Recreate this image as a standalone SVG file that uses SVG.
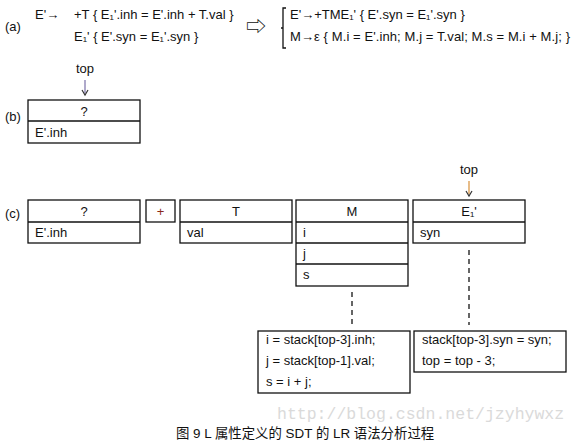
<svg xmlns="http://www.w3.org/2000/svg" width="577" height="443" viewBox="0 0 577 443">
<style>
text{font-family:"Liberation Sans","Noto Sans CJK SC",sans-serif;font-size:13px;fill:#111}
.box{fill:#fff;stroke:#111;stroke-width:1.3}
.ln{stroke:#111;stroke-width:1.3}
.c{text-anchor:middle}
.dash{stroke:#333;stroke-width:1.5;stroke-dasharray:5,4;fill:none}
.wm{font-family:"Liberation Mono","DejaVu Sans Mono",monospace;font-size:16.5px;fill:#dadada}
</style>
<rect width="577" height="443" fill="#fff"/>
<g id="part-a">
<text x="5" y="31">(a)</text>
<text x="35" y="19">E'→</text>
<text x="74" y="19">+T { E₁'.inh = E'.inh + T.val }</text>
<text x="74" y="41">E₁' { E'.syn = E₁'.syn }</text>
<text x="246" y="34" style="font-size:20px">⇨</text>
<path d="M286 8 H283 V48 H286 M283 28 H281" fill="none" stroke="#111" stroke-width="1.3"/>
<text x="290" y="19">E'→+TME₁' { E'.syn = E₁'.syn }</text>
<text x="290" y="41" textLength="280" lengthAdjust="spacing">M→ε { M.i = E'.inh; M.j = T.val; M.s = M.i + M.j; }</text>
</g>
<g id="part-b">
<text x="5" y="121">(b)</text>
<text x="85" y="73" class="c">top</text>
<g id="b-stack">
<rect class="box" x="28" y="100" width="112" height="43"/>
<line class="ln" x1="28" y1="121" x2="140" y2="121"/>
<text x="84" y="116" class="c">?</text>
<text x="35" y="137">E'.inh</text>
</g>
</g>
<g id="part-c">
<text x="5" y="218">(c)</text>
<text x="469" y="174" class="c">top</text>
</g>
<g id="c-q">
<rect class="box" x="28" y="200" width="112" height="43"/>
<line class="ln" x1="28" y1="222" x2="140" y2="222"/>
<text x="84" y="216" class="c">?</text>
<text x="35" y="237">E'.inh</text>
</g>
<g id="c-plus">
<rect class="box" x="146" y="200" width="29" height="22"/>
<text x="160.5" y="216" class="c" style="fill:#8a2a1a">+</text>
</g>
<g id="c-T">
<rect class="box" x="180" y="200" width="112" height="43"/>
<line class="ln" x1="180" y1="222" x2="292" y2="222"/>
<text x="236" y="216" class="c">T</text>
<text x="187" y="237">val</text>
</g>
<g id="c-M">
<rect class="box" x="296" y="200" width="112" height="86"/>
<line class="ln" x1="296" y1="222" x2="408" y2="222"/>
<line class="ln" x1="296" y1="243" x2="408" y2="243"/>
<line class="ln" x1="296" y1="264" x2="408" y2="264"/>
<text x="352" y="216" class="c">M</text>
<text x="303" y="237">i</text>
<text x="303" y="258">j</text>
<text x="303" y="279">s</text>
</g>
<g id="c-E1">
<rect class="box" x="413" y="200" width="112" height="43"/>
<line class="ln" x1="413" y1="222" x2="525" y2="222"/>
<text x="469" y="216" class="c">E₁'</text>
<text x="420" y="237">syn</text>
</g>
<g id="code-M">
<rect class="box" x="258" y="331" width="152" height="62"/>
<text x="266" y="344">i = stack[top-3].inh;</text>
<text x="266" y="365">j = stack[top-1].val;</text>
<text x="266" y="386">s = i + j;</text>
</g>
<g id="code-E1">
<rect class="box" x="414" y="331" width="152" height="41"/>
<text x="422" y="344">stack[top-3].syn = syn;</text>
<text x="422" y="365">top = top - 3;</text>
</g>
<g id="connectors">
<path d="M85 80 V93" stroke="#7a70a8" stroke-width="1.2" fill="none"/>
<path d="M82 90 L85 95 L88 90" stroke="#333" stroke-width="1.2" fill="none"/>
<path d="M469 181 V194" stroke="#d8903a" stroke-width="1.2" fill="none"/>
<path d="M466 191 L469 196 L472 191" stroke="#333" stroke-width="1.2" fill="none"/>
<line class="dash" x1="352" y1="292" x2="352" y2="326"/>
<line class="dash" x1="469" y1="250" x2="469" y2="325"/>
</g>
<text class="wm" x="277" y="419">http://blog.csdn.net/jzyhywxz</text>
<text x="176" y="438" style="font-size:13.4px">图 9 L 属性定义的 SDT 的 LR 语法分析过程</text>
</svg>
